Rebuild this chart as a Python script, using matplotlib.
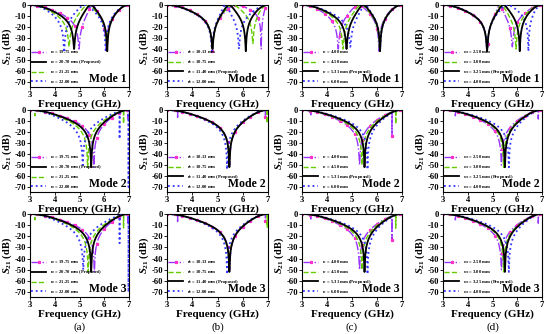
import numpy as np
import matplotlib
matplotlib.use("Agg")
import matplotlib.pyplot as plt

plt.rcParams['font.family'] = ['Liberation Serif', 'DejaVu Serif']
plt.rcParams['font.weight'] = 'bold'
plt.rcParams['mathtext.fontset'] = 'custom'
plt.rcParams['mathtext.rm'] = 'Liberation Serif:bold'
plt.rcParams['mathtext.it'] = 'Liberation Serif:bold:italic'
plt.rcParams['axes.unicode_minus'] = False

freq = np.linspace(3, 7, 4001)

# legend labels per column
labels_a = ["$r_a$ = 19.75 mm", "$r_a$ = 20.70 mm (Proposed)", "$r_a$ = 21.25 mm", "$r_a$ = 22.00 mm"]
labels_b = ["$r_b$ = 10.13 mm", "$r_b$ = 10.75 mm", "$r_b$ = 11.40 mm (Proposed)", "$r_b$ = 12.00 mm"]
labels_c = ["$r_c$ = 4.00 mm", "$r_c$ = 4.50 mm", "$r_c$ = 5.31 mm (Proposed)", "$r_c$ = 6.00 mm"]
labels_d = ["$w_s$ = 2.50 mm", "$w_s$ = 3.00 mm", "$w_s$ = 3.25 mm (Proposed)", "$w_s$ = 4.00 mm"]

# style keys per curve (same order as labels)
kinds_a = ["p", "k", "g", "b"]
kinds_b = ["p", "g", "k", "b"]
kinds_c = ["p", "g", "k", "b"]
kinds_d = ["p", "g", "k", "b"]

# Mode 1: two notches (GHz) and their depths (dB)
a_m1_f1 = [4.98, 4.78, 4.58, 4.38]
a_m1_f2 = [6.08, 6.12, 6.10, 6.06]
a_m1_d1 = [-40, -40, -38, -43]
a_m1_d2 = [-42, -42, -40, -43]
b_m1_f1 = [4.80, 4.80, 4.80, 4.78]
b_m1_f2 = [6.73, 6.40, 6.12, 5.85]
b_m1_d1 = [-42, -40, -40, -42]
b_m1_d2 = [-40, -35, -42, -40]
c_m1_f1 = [4.45, 4.64, 4.78, 4.93]
c_m1_f2 = [6.08, 6.10, 6.12, 6.12]
c_m1_d1 = [-40, -40, -40, -38]
c_m1_d2 = [-42, -40, -42, -40]
d_m1_f1 = [4.78, 4.78, 4.78, 4.78]
d_m1_f2 = [5.80, 5.95, 6.10, 6.45]
d_m1_d1 = [-42, -42, -42, -42]
d_m1_d2 = [-38, -40, -42, -42]

# Mode 2 and Mode 3: single notch
a_m2_f = [5.58, 5.47, 5.33, 5.13]
a_m2_d = [-52, -52, -52, -50]
b_m2_f = [5.48, 5.46, 5.47, 5.38]
b_m2_d = [-50, -50, -52, -54]
c_m2_f = [5.30, 5.40, 5.50, 5.62]
c_m2_d = [-50, -50, -52, -54]
d_m2_f = [5.36, 5.45, 5.50, 5.66]
d_m2_d = [-50, -52, -52, -52]
a_m3_f = [5.60, 5.47, 5.35, 5.15]
a_m3_d = [-52, -52, -52, -50]
b_m3_f = [5.48, 5.46, 5.47, 5.38]
b_m3_d = [-50, -50, -52, -54]
c_m3_f = [5.30, 5.40, 5.50, 5.62]
c_m3_d = [-50, -50, -52, -54]
d_m3_f = [5.36, 5.45, 5.50, 5.66]
d_m3_d = [-50, -52, -52, -52]

# narrow spurious dips (freq GHz, depth dB) per curve, rows 2-3
a_spur = [[(6.95, -8)], [], [(6.78, -12), (3.2, -5)], [(6.62, -25), (6.98, -70)]]
b_spur = [[(3.42, -6), (6.9, -6)], [(6.97, -12)], [], []]
c_spur = [[(3.35, -5), (6.6, -22)], [(6.75, -12)], [], []]
d_spur = [[(3.5, -4), (6.85, -8)], [], [], []]

styles = {
    "p": dict(color="#9933ff", ls="-.", lw=1.0, marker="*", ms=2.2, mfc="#ff33cc", mec="#ff33cc",
              markevery=300, zorder=2),
    "g": dict(color="#66cc00", ls="--", lw=1.0, zorder=3),
    "k": dict(color="black", ls="-", lw=1.3, zorder=5),
    "b": dict(color="#3333ff", ls=":", lw=1.3, zorder=4),
}


def response(poles, notches, depths, A, spurs=()):
    num = A * np.ones_like(freq)
    for p in poles:
        num = num * (freq - p)
    den = np.ones_like(freq)
    for i, (z, d) in enumerate(zip(notches, depths)):
        kd = 10 ** (-d / 20.0)
        val = A * abs(np.prod([z - p for p in poles]))
        others = np.prod([abs(z - o) for j, o in enumerate(notches) if j != i])
        w = val / (kd * others)
        den = den * np.sqrt((freq - z) ** 2 + w ** 2)
    K = num / den
    s = 1.0 / (1.0 + K ** 2)
    for fs, ds in spurs:
        e = 10 ** (ds / 20.0)
        g = 0.004
        s = s * ((freq - fs) ** 2 + (e * g) ** 2) / ((freq - fs) ** 2 + g ** 2)
    return 10 * np.log10(s)


fig = plt.figure(figsize=(5.5, 3.34), dpi=100)
W, H = 550.0, 334.0
cols = [(30, 129), (167, 268), (302, 402), (443, 542)]
rows = [(5, 87), (110, 192), (214, 297)]

col_data = [
    (labels_a, kinds_a, (a_m1_f1, a_m1_f2, a_m1_d1, a_m1_d2), (a_m2_f, a_m2_d), (a_m3_f, a_m3_d), a_spur),
    (labels_b, kinds_b, (b_m1_f1, b_m1_f2, b_m1_d1, b_m1_d2), (b_m2_f, b_m2_d), (b_m3_f, b_m3_d), b_spur),
    (labels_c, kinds_c, (c_m1_f1, c_m1_f2, c_m1_d1, c_m1_d2), (c_m2_f, c_m2_d), (c_m3_f, c_m3_d), c_spur),
    (labels_d, kinds_d, (d_m1_f1, d_m1_f2, d_m1_d1, d_m1_d2), (d_m2_f, d_m2_d), (d_m3_f, d_m3_d), d_spur),
]
panel_tags = ["(a)", "(b)", "(c)", "(d)"]

for ci, (x0, x1) in enumerate(cols):
    labels, kinds, m1, m2, m3, spurs = col_data[ci]
    for ri, (y0, y1) in enumerate(rows):
        ax = fig.add_axes([x0 / W, 1 - y1 / H, (x1 - x0) / W, (y1 - y0) / H])
        for k in range(4):
            if ri == 0:
                f1, f2 = m1[0][k], m1[1][k]
                peak = (f1 + f2) / 2
                y = response([3, peak, 7], [f1, f2], [m1[2][k], m1[3][k]], 0.7)
            else:
                fz, dz = (m2 if ri == 1 else m3)
                y = response([3, 7], [fz[k]], [dz[k]], 0.61, spurs[k])
            ax.plot(freq, y, label=labels[k], **styles[kinds[k]])
        ax.set_xlim(3, 7)
        ax.set_ylim(-74.5, 0)
        ax.set_xticks([3, 4, 5, 6, 7])
        ax.set_yticks(np.arange(-70, 1, 10))
        ax.tick_params(labelsize=6.2, length=2, width=0.6, pad=1)
        for lab in ax.get_xticklabels() + ax.get_yticklabels():
            lab.set_fontweight('bold')
        ax.set_xlabel("Frequency (GHz)", fontsize=8, fontweight='bold', labelpad=0)
        ax.set_ylabel("$S_{21}$ (dB)", fontsize=7.5, fontweight='bold', labelpad=0)
        ax.text(0.98, 0.03, "Mode %d" % (ri + 1), transform=ax.transAxes, ha='right', va='bottom',
                fontsize=8.5, fontweight='bold', zorder=10)
        ax.legend(loc='lower left', frameon=False, handlelength=3.2, labelspacing=0.45,
                  borderaxespad=0.2, borderpad=0.1, prop={'size': 3.3, 'weight': 'bold'})
    fig.text((x0 + x1) / 2 / W, 1 - 327 / H, panel_tags[ci], ha='center', va='center', fontsize=8,
             fontweight='normal')

fig.savefig("out.png", dpi=100)
